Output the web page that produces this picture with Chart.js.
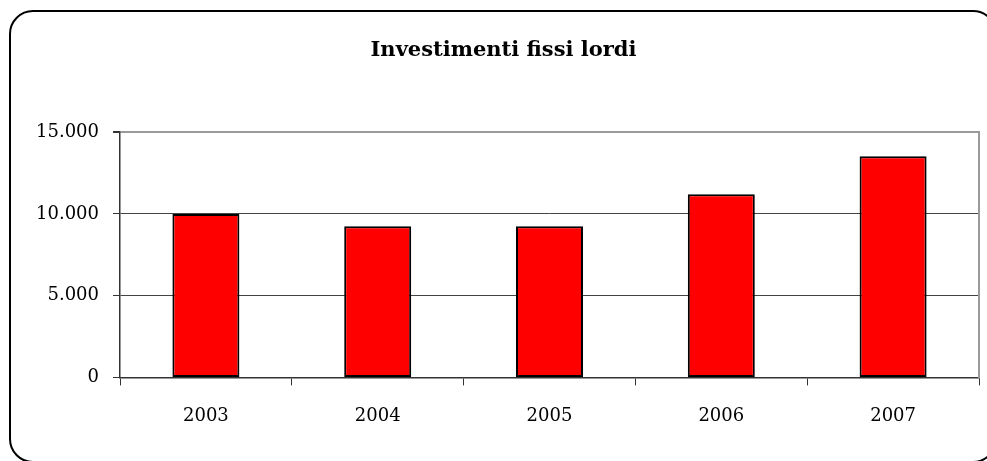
<!DOCTYPE html>
<html>
<head>
<meta charset="utf-8">
<script src="https://cdn.jsdelivr.net/npm/chart.js@4/dist/chart.umd.min.js"></script>
<style>
	html, body { margin: 0; padding: 0; background: #fff; overflow: hidden; }
	#wrap { position: relative; width: 987px; height: 461px; overflow: hidden; }
	#frame {
		position: absolute; left: 9px; top: 10px; width: 988px; height: 453px;
		box-sizing: border-box; border: 2.5px solid #000; border-radius: 24px;
	}
	#box { position: absolute; left: 0; top: 0; width: 987px; height: 461px; }
</style>
</head>
<body>
<div id="wrap">
	<div id="frame"></div>
	<div id="box"><canvas id="investChart"></canvas></div>
</div>
<script>
var years  = ['2003', '2004', '2005', '2006', '2007'];
var values = [10000, 9250, 9250, 11200, 13530];
var yTicks = [0, 5000, 10000, 15000];

(function() {
	'use strict';

	var fmt = function(v) {
		return String(v).replace(/\B(?=(\d{3})+(?!\d))/g, '.');
	};
	var serif = "'DejaVu Serif', 'Liberation Serif', serif";

	var ctx = document.getElementById('investChart').getContext('2d');
	new Chart(ctx, {
		type: 'bar',
		data: {
			labels: years,
			datasets: [{
				label: 'Investimenti fissi lordi',
				data: values,
				backgroundColor: '#ff0000',
				borderColor: '#000000',
				borderWidth: 2,
				borderSkipped: false,
				categoryPercentage: 1,
				barPercentage: 0.39
			}]
		},
		options: {
			responsive: true,
			maintainAspectRatio: false,
			animation: false,
			layout: { padding: { left: 28, right: 8, top: 0, bottom: 14 } },
			plugins: {
				legend: { display: false },
				tooltip: { enabled: false },
				title: {
					display: true,
					text: 'Investimenti fissi lordi',
					color: '#000',
					font: { family: serif, size: 21, weight: 'bold' },
					padding: { top: 38, bottom: 69 }
				}
			},
			scales: {
				x: {
					grid: {
						offset: true,
						drawOnChartArea: false,
						drawTicks: true,
						tickLength: 8,
						tickColor: '#333',
						lineWidth: 1
					},
					border: { display: true, color: '#333', width: 1.5 },
					ticks: { color: '#000', padding: 20, font: { family: serif, size: 18 } }
				},
				y: {
					min: 0,
					max: 15000,
					afterFit: function(s) { s.width = 92; },
					afterBuildTicks: function(s) {
						s.ticks = yTicks.map(function(v) { return { value: v }; });
					},
					grid: {
						color: function(c) { return c.tick && c.tick.value === 15000 ? '#9a9a9a' : '#444'; },
						lineWidth: function(c) { return c.tick && c.tick.value === 15000 ? 2 : 1; },
						tickLength: 7,
						tickColor: '#333'
					},
					border: { display: true, color: '#333', width: 1.5 },
					ticks: {
						color: '#000',
						padding: 14,
						font: { family: serif, size: 18 },
						callback: function(v) { return fmt(v); }
					}
				},
				y2: {
					position: 'right',
					min: 0,
					max: 15000,
					afterFit: function(s) { s.width = 0; },
					grid: { display: false, drawTicks: false },
					border: { display: true, color: '#9a9a9a', width: 2 },
					ticks: { display: false }
				}
			}
		}
	});
})();
</script>
</body>
</html>
